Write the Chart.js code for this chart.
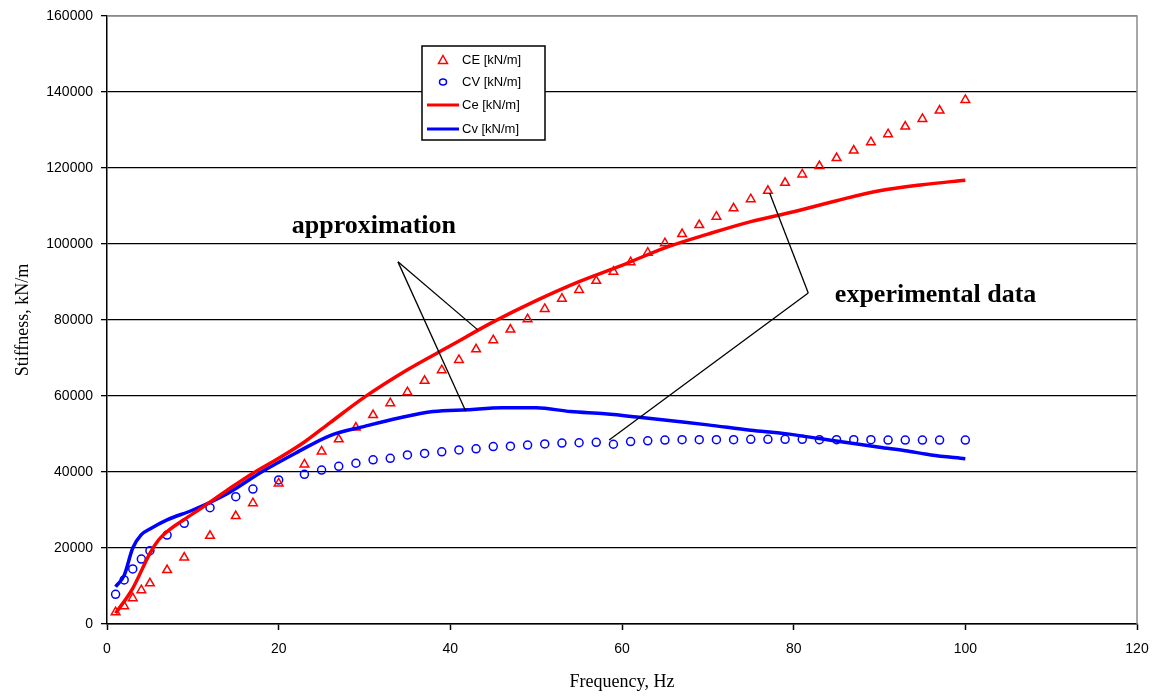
<!DOCTYPE html>
<html lang="en">

<head>
    <title>Stiffness vs frequency</title>
    <script src="https://cdn.jsdelivr.net/npm/chart.js"></script>
    <style>
        html, body { margin: 0; padding: 0; background: #fff; }
        #wrap { width: 1156px; height: 697px; }
    </style>
</head>

<body>
    <div id="wrap"><canvas id="stiffChart" width="1156" height="697"></canvas></div>

    <script>
        // experimental points (Hz)
        const freqExp = [1, 2, 3, 4, 5, 7, 9, 12, 15, 17, 20, 23, 25, 27,
            29, 31, 33, 35, 37, 39, 41, 43, 45, 47, 49, 51, 53, 55, 57, 59, 61, 63,
            65, 67, 69, 71, 73, 75, 77, 79, 81, 83, 85, 87, 89, 91, 93, 95, 97, 100];
        const ceExp = [3100, 4700, 6800, 8900, 10700, 14200, 17500, 23200, 28400, 31800, 37000, 42000, 45400, 48600,
            51700, 55000, 58100, 61000, 64000, 66800, 69500, 72300, 74700, 77500, 80200, 82900, 85600, 87900, 90300, 92700, 95200, 97700,
            100200, 102600, 105000, 107200, 109400, 111800, 114000, 116100, 118300, 120500, 122600, 124600, 126800, 128900, 130900, 132900, 135100, 137900];
        const cvExp = [7800, 11600, 14500, 17100, 19300, 23400, 26500, 30600, 33500, 35500, 37900, 39400, 40500, 41500,
            42300, 43200, 43600, 44500, 44900, 45300, 45800, 46100, 46700, 46800, 47100, 47400, 47600, 47700, 47800, 47300, 48000, 48200,
            48400, 48500, 48500, 48500, 48500, 48600, 48600, 48600, 48600, 48500, 48500, 48500, 48500, 48400, 48400, 48400, 48400, 48400];

        // approximation curves
        const freqCe = [1, 3, 5, 6, 7, 9, 11, 14, 17, 20, 23, 26, 30, 35, 40, 45, 50, 55, 60, 65, 70, 75, 80, 85, 90, 95, 100];
        const ceFit = [2800, 9400, 18600, 22100, 24300, 27500, 30500, 35200, 39700, 43600, 47900, 53000, 59700, 66900, 73200, 79500, 85100, 90100, 94400, 99000, 102600, 105900, 108500, 111400, 114000, 115600, 116800];
        const freqCv = [1, 2, 3, 4, 5, 7, 10, 14, 18, 22, 26, 30, 34, 38, 42, 46, 50, 54, 58, 62, 66, 70, 75, 79, 83, 87, 90, 93, 96, 100];
        const cvFit = [9800, 12800, 20000, 23500, 25000, 27400, 30000, 34300, 40000, 45000, 49600, 52000, 54200, 55900, 56400, 56900, 56900, 55900, 55300, 54400, 53400, 52400, 51000, 50100, 48800, 47500, 46500, 45600, 44500, 43500];

        const seriesNames = ['CE [kN/m]', 'CV [kN/m]', 'Ce [kN/m]', 'Cv [kN/m]'];
        const xTicks = [0, 20, 40, 60, 80, 100, 120];
        const yTicks = [0, 20000, 40000, 60000, 80000, 100000, 120000, 140000, 160000];

        // callouts, in data units: [text, textX, textY, [[fromX, fromY, toX, toY], ...]]
        const callouts = [
            ['approximation', 31.1, 104700, [[33.9, 95300, 43.2, 77400], [33.9, 95300, 41.8, 56000]]],
            ['experimental data', 84.8, 86600, [[81.7, 87100, 77.2, 113400], [81.7, 87100, 58.5, 48400]]]
        ];

        const toXY = (xs, ys) => xs.map((x, i) => ({ x: x, y: ys[i] }));

        const calloutPlugin = {
            id: 'callouts',
            afterDatasetsDraw(chart) {
                const { ctx, scales: { x, y }, chartArea } = chart;
                ctx.save();
                // grey frame top/right
                ctx.strokeStyle = '#8a8a8a';
                ctx.lineWidth = 1.5;
                ctx.beginPath();
                ctx.moveTo(chartArea.left, chartArea.top);
                ctx.lineTo(chartArea.right, chartArea.top);
                ctx.lineTo(chartArea.right, chartArea.bottom);
                ctx.stroke();

                ctx.strokeStyle = '#000';
                ctx.lineWidth = 1.3;
                callouts.forEach(c => {
                    c[3].forEach(l => {
                        ctx.beginPath();
                        ctx.moveTo(x.getPixelForValue(l[0]), y.getPixelForValue(l[1]));
                        ctx.lineTo(x.getPixelForValue(l[2]), y.getPixelForValue(l[3]));
                        ctx.stroke();
                    });
                    ctx.fillStyle = '#000';
                    ctx.font = 'bold 26px "Liberation Serif", serif';
                    ctx.textBaseline = 'middle';
                    ctx.textAlign = c[0] === 'approximation' ? 'center' : 'left';
                    ctx.fillText(c[0], x.getPixelForValue(c[1]), y.getPixelForValue(c[2]));
                });

                // legend box
                const bx = 422, by = 46, bw = 123, bh = 94;
                ctx.fillStyle = '#fff';
                ctx.fillRect(bx, by, bw, bh);
                ctx.strokeStyle = '#000';
                ctx.lineWidth = 1.5;
                ctx.strokeRect(bx, by, bw, bh);
                ctx.font = '13px "Liberation Sans", Arial, sans-serif';
                ctx.textAlign = 'left';
                ctx.textBaseline = 'middle';
                const rows = [60, 82, 105, 129];
                chart.data.datasets.forEach((ds, i) => {
                    const ry = rows[i];
                    if (ds.showLine === false) {
                        ctx.strokeStyle = ds.borderColor;
                        ctx.lineWidth = 1.5;
                        ctx.beginPath();
                        if (ds.pointStyle === 'triangle') {
                            ctx.moveTo(443, ry - 4.5);
                            ctx.lineTo(447.5, ry + 3.5);
                            ctx.lineTo(438.5, ry + 3.5);
                            ctx.closePath();
                        } else {
                            ctx.ellipse(443, ry, 3.5, 3, 0, 0, Math.PI * 2);
                        }
                        ctx.stroke();
                    } else {
                        ctx.strokeStyle = ds.borderColor;
                        ctx.lineWidth = 3;
                        ctx.beginPath();
                        ctx.moveTo(427, ry);
                        ctx.lineTo(459, ry);
                        ctx.stroke();
                    }
                    ctx.fillStyle = '#000';
                    ctx.fillText(ds.label, 462, ry);
                });
                ctx.restore();
            }
        };

        const ctx = document.getElementById('stiffChart').getContext('2d');
        new Chart(ctx, {
            type: 'scatter',
            data: {
                datasets: [
                    {
                        label: seriesNames[0],
                        data: toXY(freqExp, ceExp),
                        showLine: false,
                        pointStyle: 'triangle',
                        radius: 5,
                        borderColor: '#ff0000',
                        backgroundColor: 'rgba(0,0,0,0)',
                        borderWidth: 1.5,
                        order: 3
                    },
                    {
                        label: seriesNames[1],
                        data: toXY(freqExp, cvExp),
                        showLine: false,
                        pointStyle: 'circle',
                        radius: 4,
                        borderColor: '#0000ff',
                        backgroundColor: 'rgba(0,0,0,0)',
                        borderWidth: 1.5,
                        order: 4
                    },
                    {
                        label: seriesNames[2],
                        data: toXY(freqCe, ceFit),
                        showLine: true,
                        borderColor: '#ff0000',
                        borderWidth: 3.5,
                        pointRadius: 0,
                        cubicInterpolationMode: 'monotone',
                        order: 1
                    },
                    {
                        label: seriesNames[3],
                        data: toXY(freqCv, cvFit),
                        showLine: true,
                        borderColor: '#0000ff',
                        borderWidth: 3.5,
                        pointRadius: 0,
                        cubicInterpolationMode: 'monotone',
                        order: 2
                    }
                ]
            },
            options: {
                responsive: false,
                animation: false,
                layout: { padding: { left: 0, right: 19, top: 16, bottom: 0 } },
                plugins: {
                    legend: { display: false },
                    tooltip: { enabled: false }
                },
                scales: {
                    x: {
                        type: 'linear',
                        min: 0,
                        max: 120,
                        afterBuildTicks: s => { s.ticks = xTicks.map(v => ({ value: v })); },
                        afterFit: s => { s.height = 73; s.paddingLeft = 0; s.paddingRight = 0; },
                        grid: { drawOnChartArea: false, tickLength: 6, tickColor: '#000', tickWidth: 1.5 },
                        border: { color: '#000', width: 1.5 },
                        ticks: { color: '#000', padding: 11, callback: v => String(v), font: { family: '"Liberation Sans", Arial, sans-serif', size: 14 } },
                        title: {
                            display: true,
                            text: 'Frequency, Hz',
                            color: '#000',
                            padding: { top: 0, bottom: 4 },
                            font: { family: '"Liberation Serif", "Times New Roman", serif', size: 18 }
                        }
                    },
                    y: {
                        type: 'linear',
                        min: 0,
                        max: 160000,
                        afterBuildTicks: s => { s.ticks = yTicks.map(v => ({ value: v })); },
                        afterFit: s => { s.width = 107; s.paddingTop = 0; s.paddingBottom = 0; },
                        grid: {
                            color: c => (c.tick && c.tick.value === 160000) ? '#8a8a8a' : '#000',
                            lineWidth: 1.3,
                            tickLength: 6,
                            tickColor: '#000'
                        },
                        border: { color: '#000', width: 1.5 },
                        ticks: { color: '#000', padding: 8, callback: v => String(v), font: { family: '"Liberation Sans", Arial, sans-serif', size: 14 } },
                        title: {
                            display: true,
                            text: 'Stiffness, kN/m',
                            color: '#000',
                            padding: { top: 12, bottom: 0 },
                            font: { family: '"Liberation Serif", "Times New Roman", serif', size: 18 }
                        }
                    }
                }
            },
            plugins: [calloutPlugin]
        });
    </script>
</body>

</html>
